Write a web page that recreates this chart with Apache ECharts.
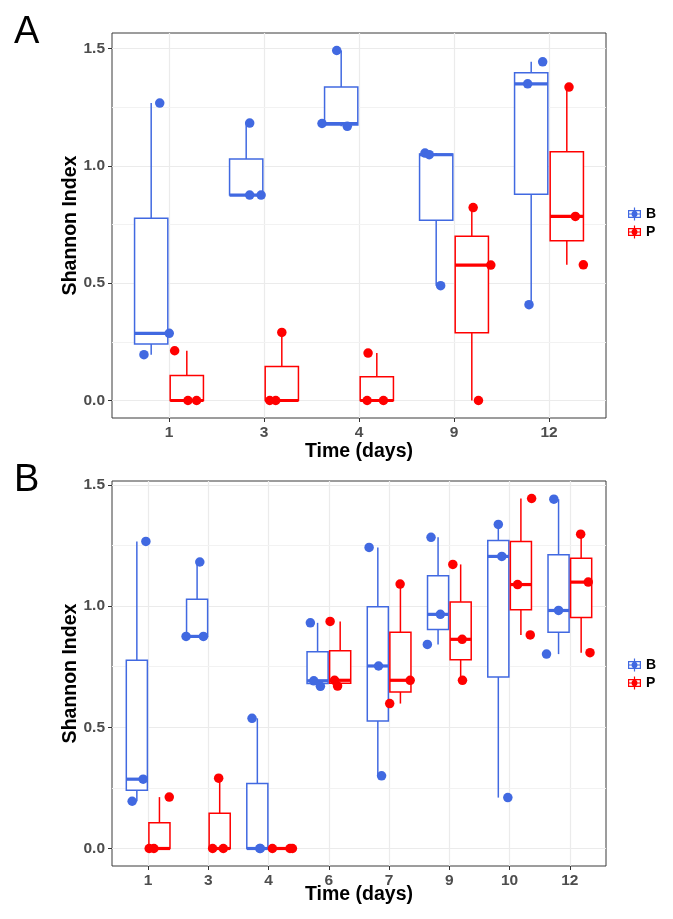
<!DOCTYPE html>
<html><head><meta charset="utf-8">
<script src="https://cdn.jsdelivr.net/npm/echarts@6/dist/echarts.min.js"></script>
<style>html,body{margin:0;padding:0;background:#fff}#c{width:673px;height:919px}</style>
</head><body><div id="c"></div><script>
// ---------------- data ----------------
// Panel A
const daysA = ['1', '3', '4', '9', '12'];
const shannonA_B = [[1.267, 0.286, 0.195], [1.182, 0.875, 0.875], [1.491, 1.180, 1.168], [1.054, 1.047, 0.489], [1.443, 1.349, 0.408]];
const shannonA_P = [[0.212, 0, 0], [0.290, 0, 0], [0.202, 0, 0], [0.822, 0.577, 0], [1.335, 0.784, 0.578]];
const jitterA_B = [[0.09, 0.19, -0.076], [0.037, 0.037, 0.157], [-0.047, -0.202, 0.064], [-0.118, -0.073, 0.047], [0.121, -0.037, -0.023]];
const jitterA_P = [[-0.128, 0.012, 0.103], [0, -0.127, -0.064], [-0.092, -0.102, 0.07], [0.014, 0.2, 0.07], [0.023, 0.09, 0.174]];
// Panel B
const daysB = ['1', '3', '4', '6', '7', '9', '10', '12'];
const shannonB_B = [[1.267, 0.286, 0.195], [1.182, 0.875, 0.875], [0.537, 0, 0], [0.931, 0.692, 0.669], [1.242, 0.753, 0.300], [1.284, 0.966, 0.842], [1.337, 1.205, 0.210], [1.441, 0.982, 0.802]];
const shannonB_P = [[0.212, 0, 0], [0.290, 0, 0], [0, 0, 0], [0.937, 0.694, 0.670], [1.091, 0.694, 0.598], [1.172, 0.863, 0.694], [1.444, 1.089, 0.881], [1.297, 1.099, 0.808]];
const jitterB_B = [[0.15, 0.105, -0.078], [0.045, -0.183, 0.105], [-0.088, 0.04, 0.05], [-0.12, -0.063, 0.047], [-0.145, 0.012, 0.062], [-0.117, 0.038, -0.178], [0, 0.058, 0.158], [-0.078, 0, -0.2]];
const jitterB_P = [[0.163, -0.17, -0.092], [-0.017, -0.117, 0.06], [-0.125, 0.167, 0.207], [-0.167, -0.093, -0.043], [-0.005, 0.162, -0.178], [-0.13, 0.025, 0.03], [0.178, -0.055, 0.155], [-0.008, 0.118, 0.147]];
const yMajorTicks = [0, 0.5, 1.0, 1.5];
const yMinorGrid = [0.25, 0.75, 1.25];
const groupNames = ['B', 'P'];

// ---------------- style ----------------
const BLUE = '#4169E1', RED = '#FF0000';
const FONT = '"Liberation Sans", Arial, Helvetica, sans-serif';
const DODGE = 0.1875, BOX_W = 0.35;

function quantile(sorted, p) {
  const h = (sorted.length - 1) * p;
  const lo = Math.floor(h), hi = Math.ceil(h);
  return sorted[lo] + (h - lo) * (sorted[hi] - sorted[lo]);
}
function boxStats(vals) {
  const s = vals.slice().sort((a, b) => a - b);
  const q1 = quantile(s, 0.25), med = quantile(s, 0.5), q3 = quantile(s, 0.75);
  const iqr = q3 - q1;
  const lo = Math.min(...s.filter(v => v >= q1 - 1.5 * iqr));
  const hi = Math.max(...s.filter(v => v <= q3 + 1.5 * iqr));
  return [lo, q1, med, q3, hi];
}
function yRange(groups) {
  const all = groups.flat(2);
  const mn = Math.min(...all), mx = Math.max(...all), pad = (mx - mn) * 0.05;
  return [mn - pad, mx + pad];
}

function renderBox(params, api) {
  const x = api.value(0);
  const pLo = api.coord([x, api.value(1)]);
  const pQ1 = api.coord([x, api.value(2)]);
  const pMed = api.coord([x, api.value(3)]);
  const pQ3 = api.coord([x, api.value(4)]);
  const pHi = api.coord([x, api.value(5)]);
  const w = api.size([BOX_W, 0])[0];
  const color = api.visual('color');
  const ls = { stroke: color, lineWidth: 1.5, fill: null };
  return {
    type: 'group',
    children: [
      { type: 'line', shape: { x1: pHi[0], y1: pHi[1], x2: pQ3[0], y2: pQ3[1] }, style: ls },
      { type: 'line', shape: { x1: pLo[0], y1: pLo[1], x2: pQ1[0], y2: pQ1[1] }, style: ls },
      { type: 'rect', shape: { x: pQ3[0] - w / 2, y: pQ3[1], width: w, height: pQ1[1] - pQ3[1] },
        style: { fill: '#fff', stroke: color, lineWidth: 1.5 } },
      { type: 'line', shape: { x1: pMed[0] - w / 2, y1: pMed[1], x2: pMed[0] + w / 2, y2: pMed[1] },
        style: { stroke: color, lineWidth: 3.2 } }
    ]
  };
}

function panelSeries(idx, groups) {
  const out = [{
    type: 'line', xAxisIndex: idx, yAxisIndex: idx, data: [], silent: true, z: 1,
    markLine: {
      silent: true, symbol: 'none', label: { show: false }, animation: false, z: 1,
      lineStyle: { color: '#F2F2F2', width: 1, type: 'solid' },
      emphasis: { disabled: true },
      data: yMinorGrid.map(v => ({ yAxis: v }))
    }
  }];
  groups.forEach((g, gi) => {
    const off = gi === 0 ? -DODGE : DODGE;
    out.push({
      type: 'custom', name: g.name, xAxisIndex: idx, yAxisIndex: idx, z: 10,
      itemStyle: { color: g.color }, renderItem: renderBox,
      encode: { x: 0, y: [1, 2, 3, 4, 5] },
      data: g.vals.map((v, i) => [i + 1 + off, ...boxStats(v)])
    });
  });
  groups.forEach((g, gi) => {
    const off = gi === 0 ? -DODGE : DODGE;
    const pts = [];
    g.vals.forEach((v, i) => v.forEach((y, j) => pts.push([i + 1 + off + g.jit[i][j], y])));
    out.push({
      type: 'scatter', name: g.name, xAxisIndex: idx, yAxisIndex: idx, z: 12,
      symbol: 'circle', symbolSize: 9.5, itemStyle: { color: g.color, opacity: 1 },
      data: pts
    });
  });
  return out;
}

const tickLabel = { color: '#4D4D4D', fontWeight: 'bold', fontSize: 15.5, fontFamily: FONT };
const splitLine = { show: true, showMinLine: false, showMaxLine: false, lineStyle: { color: '#EBEBEB', width: 1.2 } };

function xAxis(idx, cats, gap) {
  return {
    type: 'value', gridIndex: idx, min: 0.4, max: cats.length + 0.6, minInterval: 1, maxInterval: 1,
    name: 'Time (days)', nameLocation: 'middle', nameGap: gap, nameMoveOverlap: false,
    nameTextStyle: { color: '#000', fontWeight: 'bold', fontSize: 19.5, fontFamily: FONT },
    axisLine: { show: false, onZero: false },
    axisTick: { show: true, length: 4, lineStyle: { color: '#333' } },
    axisLabel: { ...tickLabel, margin: 7, showMinLabel: false, showMaxLabel: false,
      formatter: v => (Number.isInteger(v) && cats[v - 1]) ? cats[v - 1] : '' },
    splitLine
  };
}
function yAxis(idx, range) {
  return {
    type: 'value', gridIndex: idx, min: range[0], max: range[1], minInterval: 0.5, maxInterval: 0.5,
    name: 'Shannon Index', nameLocation: 'middle', nameGap: 31, nameMoveOverlap: false,
    nameTextStyle: { color: '#000', fontWeight: 'bold', fontSize: 19.5, fontFamily: FONT },
    axisLine: { show: false, onZero: false },
    axisTick: { show: true, length: 4, lineStyle: { color: '#333' } },
    axisLabel: { ...tickLabel, margin: 7, showMinLabel: false, showMaxLabel: false,
      formatter: v => yMajorTicks.some(t => Math.abs(t - v) < 1e-6) ? v.toFixed(1) : '' },
    splitLine
  };
}

const ICON = 'path://M0 2.5H13V10.5H0Z M1.2 3.7V9.3H11.8V3.7Z M5.9 0H7.1V13H5.9Z M0 5.9H13V7.1H0Z M3.5 6.5A3 3 0 1 1 9.5 6.5A3 3 0 1 1 3.5 6.5Z';
function legend(top) {
  return {
    orient: 'vertical', left: 623, top, itemWidth: 13, itemHeight: 13, itemGap: 4,
    selectedMode: false,
    textStyle: { color: '#000', fontWeight: 'bold', fontSize: 14, fontFamily: FONT },
    data: [{ name: 'B', icon: ICON, itemStyle: { color: BLUE } }, { name: 'P', icon: ICON, itemStyle: { color: RED } }]
  };
}

const groupsA = [
  { name: groupNames[0], color: BLUE, vals: shannonA_B, jit: jitterA_B },
  { name: groupNames[1], color: RED, vals: shannonA_P, jit: jitterA_P }
];
const groupsB = [
  { name: groupNames[0], color: BLUE, vals: shannonB_B, jit: jitterB_B },
  { name: groupNames[1], color: RED, vals: shannonB_P, jit: jitterB_P }
];

const chart = echarts.init(document.getElementById('c'), null, { renderer: 'canvas' });
chart.setOption({
  animation: false,
  backgroundColor: '#fff',
  grid: [
    { left: 112, right: 67, top: 33, height: 385, show: true, borderColor: '#3a3a3a', borderWidth: 1, backgroundColor: 'transparent' },
    { left: 112, right: 67, top: 481, height: 385, show: true, borderColor: '#3a3a3a', borderWidth: 1, backgroundColor: 'transparent' }
  ],
  xAxis: [xAxis(0, daysA, 24), xAxis(1, daysB, 19)],
  yAxis: [yAxis(0, yRange([shannonA_B, shannonA_P])), yAxis(1, yRange([shannonB_B, shannonB_P]))],
  legend: [legend(202), legend(653)],
  graphic: [
    { type: 'text', x: 14, y: 33, style: { text: 'A', font: '38px ' + FONT, fill: '#000', textVerticalAlign: 'middle', verticalAlign: 'middle' } },
    { type: 'text', x: 14, y: 481, style: { text: 'B', font: '38px ' + FONT, fill: '#000', textVerticalAlign: 'middle', verticalAlign: 'middle' } }
  ],
  series: [...panelSeries(0, groupsA), ...panelSeries(1, groupsB)]
});
</script></body></html>
